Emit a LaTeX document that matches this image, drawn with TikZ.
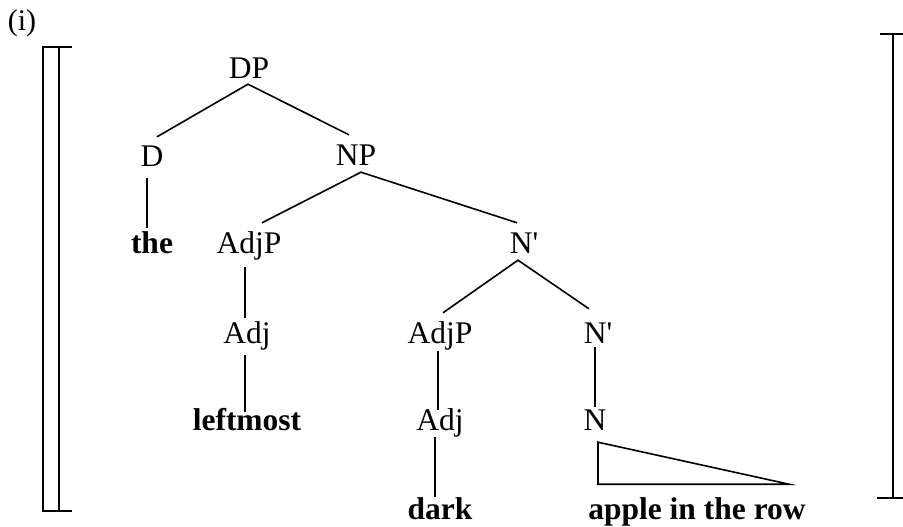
\documentclass[tikz,border=0pt]{standalone}
\usepackage{fontspec}
\setmainfont{Liberation Serif}
\usetikzlibrary{calc}
\begin{document}
\begin{tikzpicture}[x=1pt,y=-1pt,
  lab/.style={anchor=base,inner xsep=0pt,inner ysep=8pt,text height=20pt,text depth=0pt,font=\fontsize{31.5}{36}\selectfont},
  leaf/.style={lab,font=\fontsize{31.5}{36}\selectfont\bfseries},
  edge/.style={line width=1.6pt},
  brk/.style={line width=2pt}]
\useasboundingbox (0,0) rectangle (903,527);
% label
\node[anchor=base,inner sep=0pt,font=\fontsize{30}{34}\selectfont] (ex) at (22,31) {(i)};
% nodes
\node[lab] (DP) at (249,78) {DP};
\node[lab] (D) at (152,166) {D};
\node[lab] (NP) at (356,165) {NP};
\node[leaf] (the) at (152,253) {the};
\node[lab] (AdjPa) at (249,253) {AdjP};
\node[lab] (Nba) at (524,253) {N\textquotesingle};
\node[lab] (Adja) at (247,343) {Adj};
\node[lab] (AdjPb) at (440,343) {AdjP};
\node[lab] (Nbb) at (598,343) {N\textquotesingle};
\node[leaf] (leftmost) at (247,430) {leftmost};
\node[lab] (Adjb) at (440,430) {Adj};
\node[lab] (N) at (595,430) {N};
\node[leaf] (dark) at (440,519) {dark};
\node[leaf] (apple) at (697,519) {apple in the row};
% edges
\draw[edge] ($(D.north)+(5,-1)$) -- ($(DP.south)+(-1,-2)$) -- ($(NP.north)+(-7,-2)$);
\draw[edge] ($(D.south)+(-5,4)$) -- ($(the.north)+(-5,3)$);
\draw[edge] ($(AdjPa.north)+(13,-2)$) -- ($(NP.south)+(5,-1)$) -- ($(Nba.north)+(-7,-2)$);
\draw[edge] ($(AdjPa.south)+(-4,6)$) -- ($(Adja.north)+(-2,3)$);
\draw[edge] ($(Adja.south)+(-2,4)$) -- ($(leftmost.north)+(-2,10)$);
\draw[edge] ($(AdjPb.north)+(3,-2)$) -- ($(Nba.south)+(-6,-1)$) -- ($(Nbb.north)+(-9,-6)$);
\draw[edge] ($(AdjPb.south)+(-2,0)$) -- ($(Adjb.north)+(-2,8)$);
\draw[edge] ($(Nbb.south)+(-3,-4)$) -- ($(N.north)+(0,5)$);
\draw[edge] ($(Adjb.south)+(-5,-1)$) -- ($(dark.north)+(-5,6)$);
% triangle
\coordinate (tri) at ($(N.south)+(3,4)$);
\draw[edge,line join=miter] (tri) -- ++(0,42) -- ++(191,0) -- cycle;
% brackets
\draw[brk] (72,47) -- (43,47) -- (43,511) -- (72,511);
\draw[brk] (59,47) -- (59,511);
\draw[brk] (880,34) -- (903,34);
\draw[brk] (893,34) -- (893,498);
\draw[brk] (877,498) -- (903,498);
\end{tikzpicture}
\end{document}
